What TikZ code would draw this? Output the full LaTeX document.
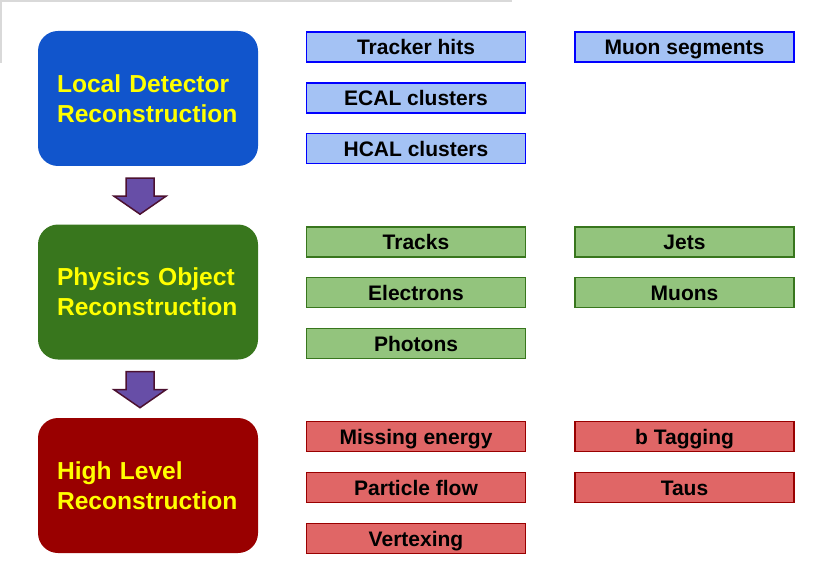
\documentclass[tikz,border=0pt]{standalone}
\usepackage{fontspec}
\setmainfont{Liberation Sans}
\definecolor{bigblue}{HTML}{1155CC}
\definecolor{biggreen}{HTML}{38761D}
\definecolor{bigred}{HTML}{990000}
\definecolor{txtyellow}{HTML}{FFFF00}
\definecolor{lblue}{HTML}{A4C2F4}
\definecolor{lbluedraw}{HTML}{0000FF}
\definecolor{lgreen}{HTML}{93C47D}
\definecolor{lgreendraw}{HTML}{38761D}
\definecolor{lred}{HTML}{E06666}
\definecolor{lreddraw}{HTML}{990000}
\definecolor{arrfill}{HTML}{674EA7}
\definecolor{arrdraw}{HTML}{4C1130}
\definecolor{framegray}{HTML}{D9D9D9}
\tikzset{
  bigbox/.style={rounded corners=20pt, minimum width=220pt, minimum height=135pt,
    text width=182pt, inner xsep=19pt, inner ysep=0pt, align=left, text=txtyellow,
    font=\fontsize{24.6}{30}\selectfont\bfseries},
  smallbox/.style={minimum width=219pt, minimum height=30pt, inner sep=0pt,
    text height=15.2pt, text depth=0pt, line width=1.5pt,
    font=\fontsize{21}{24}\selectfont\bfseries},
  bluebox/.style={smallbox, fill=lblue, draw=lbluedraw, line width=1.8pt},
  greenbox/.style={smallbox, fill=lgreen, draw=lgreendraw},
  redbox/.style={smallbox, fill=lred, draw=lreddraw},
  blockarrow/.pic={\draw[fill=arrfill, draw=arrdraw, line width=1.5pt, line join=miter]
    (-14,0) -- (14,0) -- (14,18) -- (26,18) -- (0,36) -- (-26,18) -- (-14,18) -- cycle;}
}
\begin{document}
\begin{tikzpicture}[x=1pt,y=-1pt]
\useasboundingbox (0,0) rectangle (837,588);
% frame remnants
\draw[framegray, line width=1.5pt] (0,1) -- (512,1);
\draw[framegray, line width=1.5pt] (1,0) -- (1,63);
% big boxes
\node[bigbox, fill=bigblue] (local) at (148,98.5) {Local Detector\\Reconstruction};
\node[bigbox, fill=biggreen] (phys) at (148,292) {Physics Object\\Reconstruction};
\node[bigbox, fill=bigred] (high) at (148,485.5) {High Level\\Reconstruction};
% block arrows
\path (local.south) ++(-8,12) coordinate (a1);
\path (phys.south) ++(-8,12) coordinate (a2);
\pic at (a1) {blockarrow};
\pic at (a2) {blockarrow};
% blue small boxes
\node[bluebox] (trk) at (416,47) {Tracker hits};
\node[bluebox] (ecal) at (416,98) {ECAL clusters};
\node[bluebox] (hcal) at (416,148.5) {HCAL clusters};
\node[bluebox] (museg) at (684.5,47) {Muon segments};
% green small boxes
\node[greenbox] (tracks) at (416,242) {Tracks};
\node[greenbox] (ele) at (416,292.5) {Electrons};
\node[greenbox] (pho) at (416,343.5) {Photons};
\node[greenbox] (jets) at (684.5,242) {Jets};
\node[greenbox] (muons) at (684.5,292.5) {Muons};
% red small boxes
\node[redbox] (met) at (416,436.5) {Missing energy};
\node[redbox] (pf) at (416,487.5) {Particle flow};
\node[redbox] (vtx) at (416,538.5) {Vertexing};
\node[redbox] (btag) at (684.5,436.5) {b Tagging};
\node[redbox] (taus) at (684.5,487.5) {Taus};
\end{tikzpicture}
\end{document}
